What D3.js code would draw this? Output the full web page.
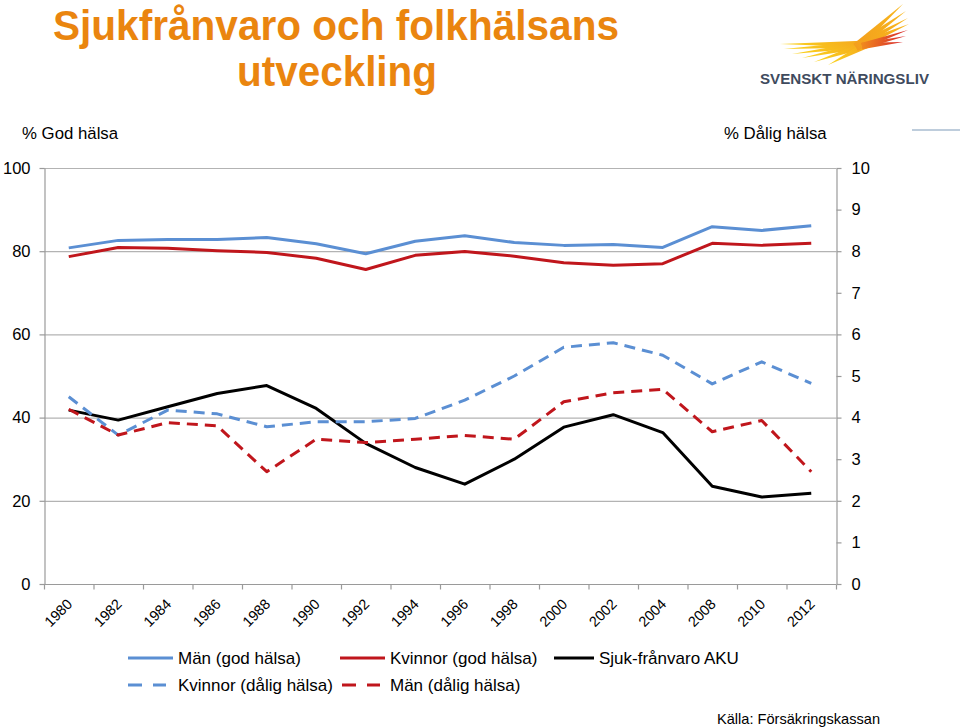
<!DOCTYPE html>
<html><head><meta charset="utf-8">
<script src="https://cdn.jsdelivr.net/npm/d3@7"></script>
<style>
html,body{margin:0;padding:0;background:#fff;}
svg{display:block;font-family:"Liberation Sans",Arial,sans-serif;}
</style></head>
<body>
<svg id="c" width="960" height="728"></svg>
<script>
// ---- data ----
const years = ["1980","1982","1984","1986","1988","1990","1992","1994","1996","1998","2000","2002","2004","2008","2010","2012"];
const manGodHalsa     = [80.8,82.6,82.8,82.8,83.3,81.8,79.4,82.4,83.7,82.1,81.4,81.6,80.9,85.9,85.0,86.1];
const kvinnorGodHalsa = [78.7,80.9,80.7,80.1,79.7,78.3,75.6,79.0,79.9,78.8,77.2,76.6,77.0,81.9,81.4,81.9];
const sjukfranvaroAKU = [4.18,3.94,4.26,4.58,4.77,4.22,3.38,2.80,2.40,3.00,3.77,4.07,3.64,2.35,2.09,2.18];
const kvinnorDaligHalsa = [4.50,3.58,4.18,4.09,3.78,3.90,3.90,3.98,4.42,5.00,5.69,5.80,5.50,4.81,5.34,4.82];
const manDaligHalsa     = [4.20,3.58,3.88,3.80,2.70,3.48,3.40,3.48,3.57,3.48,4.38,4.60,4.68,3.66,3.93,2.70];
const leftTicks  = [0,20,40,60,80,100];
const rightTicks = [0,1,2,3,4,5,6,7,8,9,10];

const series = [
  {name:"Män (god hälsa)", values:manGodHalsa, axis:"L", color:"#5b8fd3", dash:null},
  {name:"Kvinnor (god hälsa)", values:kvinnorGodHalsa, axis:"L", color:"#c0161c", dash:null},
  {name:"Sjuk-frånvaro AKU", values:sjukfranvaroAKU, axis:"R", color:"#000000", dash:null},
  {name:"Kvinnor (dålig hälsa)", values:kvinnorDaligHalsa, axis:"R", color:"#5b8fd3", dash:"11,7"},
  {name:"Män (dålig hälsa)", values:manDaligHalsa, axis:"R", color:"#c0161c", dash:"11,7"}
];

const svg = d3.select("#c");
const L = 44, R = 836, T = 168, B = 584;
const x = d3.scalePoint().domain(years).range([L,R]).padding(0.5);
const xb = d3.scaleBand().domain(years).range([L,R]);
const yL = d3.scaleLinear().domain([0,100]).range([B,T]);
const yR = d3.scaleLinear().domain([0,10]).range([B,T]);

// ---- title ----
const title = svg.append("g").attr("fill","#ea850f").attr("font-weight","bold")
  .attr("font-size",43).attr("text-anchor","middle")
  .attr("font-family","'Liberation Sans Narrow','Liberation Sans',Arial,sans-serif");
title.append("text").attr("x",336).attr("y",40).attr("textLength",566).attr("lengthAdjust","spacingAndGlyphs").text("Sjukfrånvaro och folkhälsans");
title.append("text").attr("x",337).attr("y",86).attr("textLength",200).attr("lengthAdjust","spacingAndGlyphs").text("utveckling");

// ---- logo ----
const defs = svg.append("defs");
const logo = svg.append("g");
const gradY = defs.append("linearGradient").attr("id","gy").attr("x1","0").attr("x2","1");
gradY.append("stop").attr("offset","0").attr("stop-color","#fbd51f");
gradY.append("stop").attr("offset","1").attr("stop-color","#f4a41d");
const gradR = defs.append("linearGradient").attr("id","gr").attr("x1","0").attr("x2","1");
gradR.append("stop").attr("offset","0").attr("stop-color","#f08a1e");
gradR.append("stop").attr("offset","1").attr("stop-color","#d8262c");
const gradU = defs.append("linearGradient").attr("id","gu").attr("x1","0").attr("y1","1").attr("x2","1").attr("y2","0");
gradU.append("stop").attr("offset","0").attr("stop-color","#f39c1e");
gradU.append("stop").attr("offset","1").attr("stop-color","#f8b81c");
function feather(x1,y1,x2,y2,w,fill){
  const dx=x2-x1, dy=y2-y1, len=Math.hypot(dx,dy), nx=-dy/len, ny=dx/len;
  const p = [[x1+nx*w,y1+ny*w],[x2,y2],[x1-nx*w,y1-ny*w]];
  logo.append("path").attr("d","M"+p.map(d=>d.join(",")).join("L")+"Z").attr("fill",fill);
}
// left tail streaks
[[780,44],[784,49],[792,54],[802,58],[814,62],[828,65]].forEach(e=>feather(868,44,e[0],e[1],3.6,"url(#gy)"));
// upper wing feathers
[[903,4],[906,11],[908,18],[909,24]].forEach(e=>feather(856,47,e[0],e[1],4,"url(#gu)"));
[[908,30],[906,36],[903,42]].forEach(e=>feather(862,46,e[0],e[1],3.2,"url(#gr)"));
logo.append("text").attr("x",760).attr("y",84).attr("font-size",15.5).attr("font-weight","bold")
  .attr("fill","#3f4b5e").attr("textLength",169).attr("lengthAdjust","spacingAndGlyphs")
  .attr("font-family","'Liberation Sans Narrow','Liberation Sans',Arial,sans-serif")
  .text("SVENSKT NÄRINGSLIV");

// small line top-right
svg.append("line").attr("x1",912).attr("x2",960).attr("y1",130).attr("y2",130).attr("stroke","#a9bcd0").attr("stroke-width",1.5);

// ---- axis titles ----
svg.append("text").attr("x",22).attr("y",139).attr("font-size",16.8).text("% God hälsa");
svg.append("text").attr("x",724).attr("y",139).attr("font-size",16.8).text("% Dålig hälsa");

// ---- gridlines ----
svg.append("g").selectAll("line").data(leftTicks.filter(d=>d>0)).join("line")
  .attr("x1",L).attr("x2",R).attr("y1",d=>yL(d)+0.5).attr("y2",d=>yL(d)+0.5)
  .attr("stroke","#b3b3b3").attr("stroke-width",1.2);

// ---- axes ----
function styleAxis(g){
  g.selectAll(".domain").attr("stroke","#9a9a9a").attr("stroke-width",1.2);
  g.selectAll(".tick line").attr("stroke","#9a9a9a").attr("stroke-width",1.2);
  g.selectAll("text").attr("font-size",16.5).attr("fill","#000").attr("font-family","'Liberation Sans',Arial,sans-serif");
}
svg.append("g").attr("transform",`translate(${L+0.5},0)`)
  .call(d3.axisLeft(yL).tickValues(leftTicks).tickSize(5).tickSizeOuter(0).tickPadding(9))
  .call(styleAxis);
svg.append("g").attr("transform",`translate(${R+0.5},0)`)
  .call(d3.axisRight(yR).tickValues(rightTicks).tickSize(5).tickSizeOuter(0).tickPadding(10))
  .call(styleAxis);
// bottom axis line + boundary ticks
const bottomTicks = years.map(y=>xb(y)).concat([R]);
const bx = svg.append("g").attr("transform",`translate(0,${B+0.5})`);
bx.append("line").attr("x1",L).attr("x2",R).attr("stroke","#9a9a9a").attr("stroke-width",1.2);
bx.selectAll("line.t").data(bottomTicks).join("line").attr("class","t")
  .attr("x1",d=>d+0.5).attr("x2",d=>d+0.5).attr("y1",0).attr("y2",5)
  .attr("stroke","#9a9a9a").attr("stroke-width",1.2);
const xa = svg.append("g").attr("transform",`translate(0,${B})`)
  .call(d3.axisBottom(x).tickSize(0).tickPadding(0));
xa.select(".domain").remove();
xa.selectAll("text").attr("font-size",14.5).attr("fill","#000")
  .attr("text-anchor","end").attr("dy",0)
  .attr("transform","translate(4,21) rotate(-45)");

// ---- lines ----
series.forEach(s=>{
  const ys = s.axis==="L"?yL:yR;
  const line = d3.line().x((d,i)=>x(years[i])).y(d=>ys(d));
  svg.append("path").datum(s.values).attr("d",line).attr("fill","none")
    .attr("stroke",s.color).attr("stroke-width",3).attr("stroke-linejoin","round")
    .attr("stroke-dasharray",s.dash);
});

// ---- legend ----
const legendPos = [[128,658,178],[340,658,390],[554,658,599],[128,685,178],[342,685,390]];
series.forEach((s,i)=>{
  const [lx,ly,tx] = legendPos[i];
  const g = svg.append("g");
  if(s.dash){
    g.append("line").attr("x1",lx).attr("x2",lx+38).attr("y1",ly).attr("y2",ly)
      .attr("stroke",s.color).attr("stroke-width",3).attr("stroke-dasharray","14,11");
  } else {
    g.append("line").attr("x1",lx).attr("x2",tx-5).attr("y1",ly).attr("y2",ly)
      .attr("stroke",s.color).attr("stroke-width",3);
  }
  g.append("text").attr("x",tx).attr("y",ly+6).attr("font-size",17).attr("fill","#000").text(s.name);
});

// ---- source ----
svg.append("text").attr("x",717).attr("y",724).attr("font-size",15).attr("fill","#000")
  .attr("textLength",163).attr("lengthAdjust","spacingAndGlyphs")
  .text("Källa: Försäkringskassan");
</script>
</body></html>
